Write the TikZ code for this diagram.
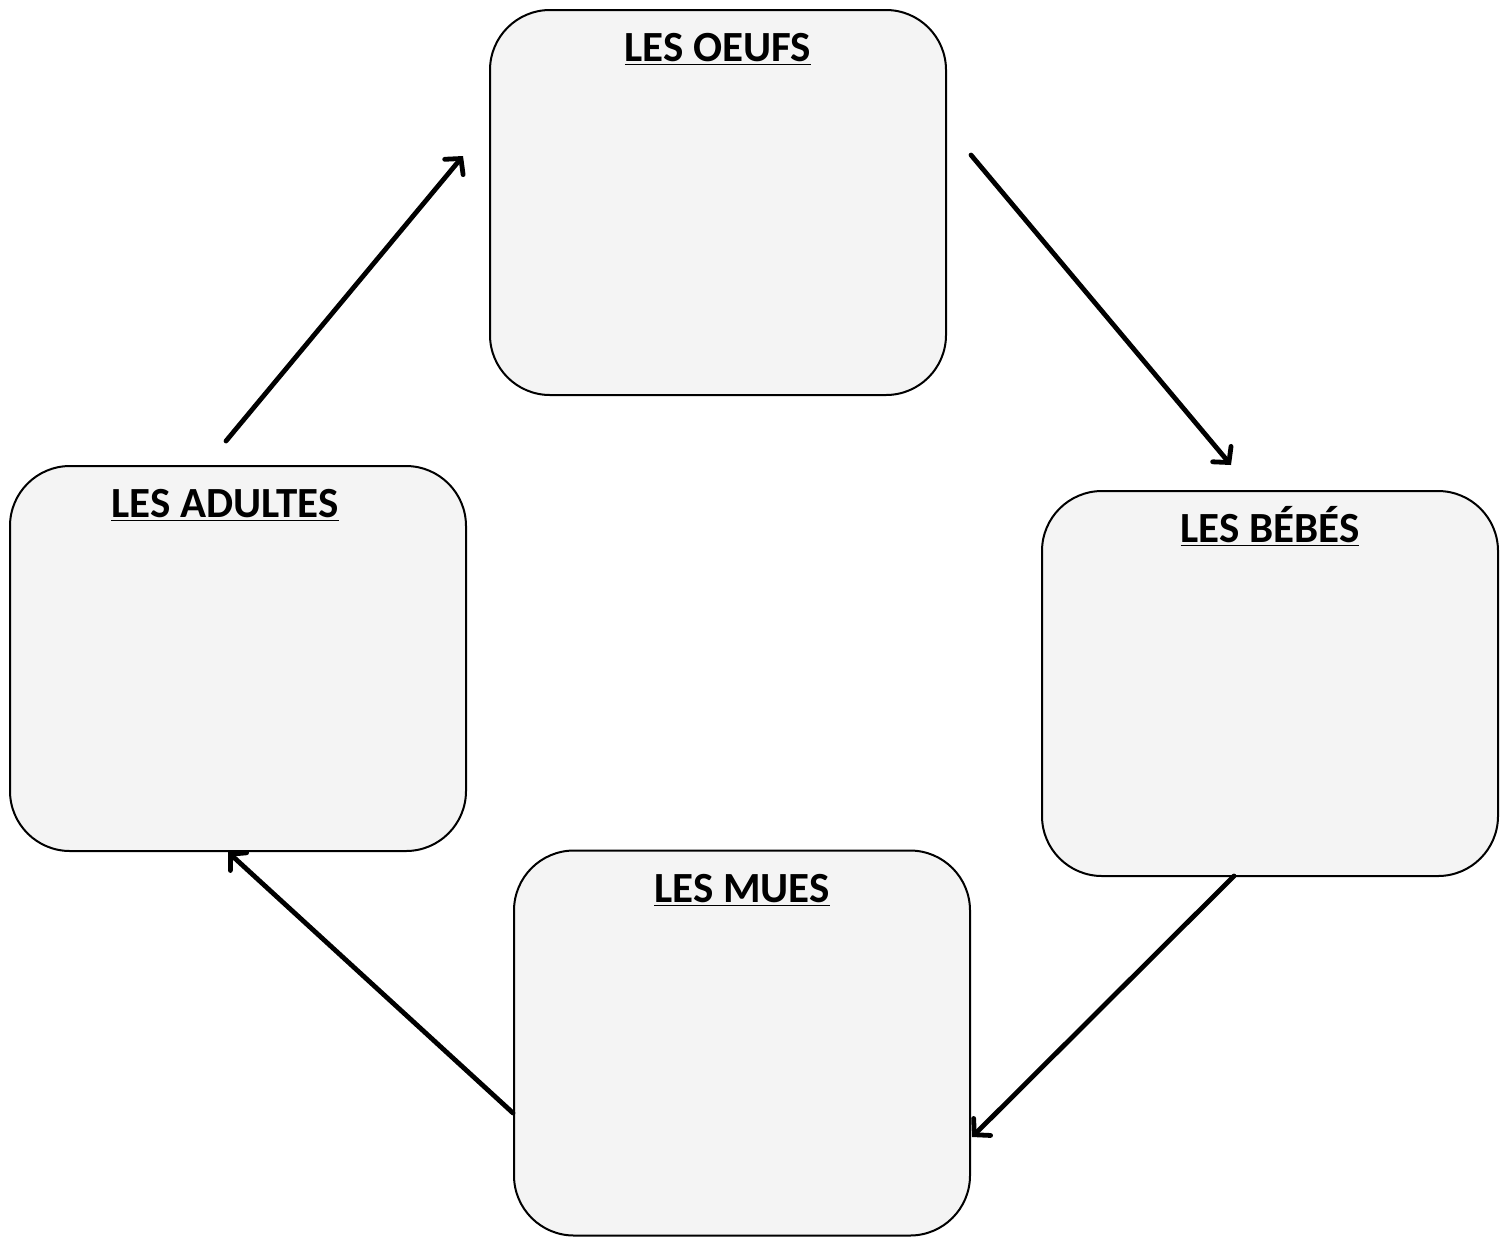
\documentclass[tikz,border=0pt]{standalone}
\usepackage{fontspec}
\setmainfont{Carlito}
\usepackage{tikz}
\usetikzlibrary{arrows.meta}
\definecolor{boxgray}{RGB}{244,244,244}
\tikzset{
  stage/.style={draw, line width=1pt, fill=boxgray, rounded corners=30pt, minimum width=228pt, minimum height=192.5pt, inner sep=0pt},
  title/.style={anchor=base, font=\fontsize{21.5}{24}\selectfont\bfseries, inner sep=0pt},
  cycle/.style={line width=2.4pt, line cap=round, -{Straight Barb[length=5.5pt,width=12pt,line cap=round]}}
}
\begin{document}
\begin{tikzpicture}[x=0.5pt, y=-0.5pt]
\useasboundingbox (0,0) rectangle (1509,1238);
\node[stage] (Oeufs) at (718,202.5){};
\node[stage] (Adultes) at (238,658.5){};
\node[stage] (Bebes) at (1270,683.5){};
\node[stage] (Mues) at (742,1043){};
\node[title] (OeufsLabel) at (718,61){\underline{LES OEUFS}};
\node[title] (AdultesLabel) at (225,517){\underline{LES ADULTES}};
\node[title] (BebesLabel) at (1270,542){\underline{LES BÉBÉS}};
\node[title] (MuesLabel) at (742,902){\underline{LES MUES}};
\coordinate (A1) at (226,441); \coordinate (A2) at (463,156);
\coordinate (B1) at (971,155); \coordinate (B2) at (1231,465);
\coordinate (C1) at (1234,876); \coordinate (C2) at (972,1137);
\coordinate (D1) at (513,1113); \coordinate (D2) at (228,852);
\draw[cycle] (A1) -- (A2);
\draw[cycle] (B1) -- (B2);
\draw[cycle] (C1) -- (C2);
\draw[cycle] (D1) -- (D2);
\end{tikzpicture}
\end{document}
